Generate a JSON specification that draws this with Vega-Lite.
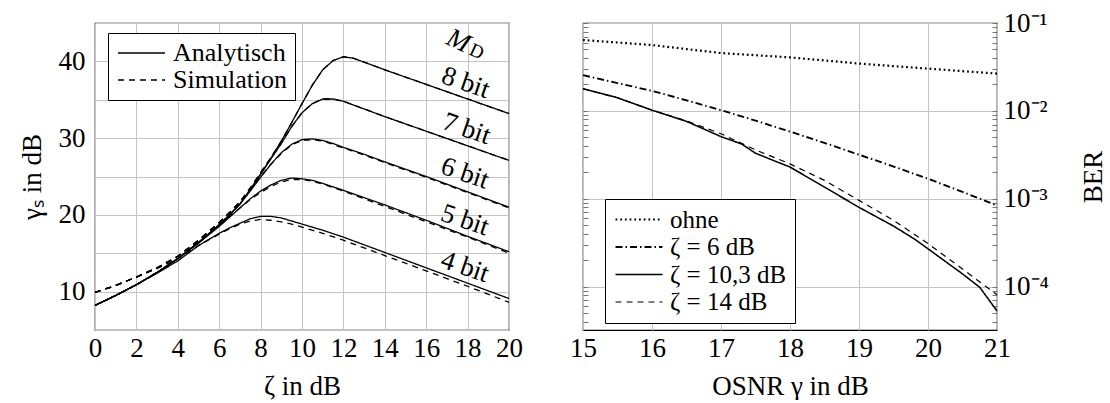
{
  "$schema": "https://vega.github.io/schema/vega-lite/v6.json",
  "padding": {"left": 17, "top": 8, "right": 0, "bottom": 0},
  "background": "white",
  "config": {
    "font": "Liberation Serif",
    "view": {"stroke": "black", "strokeWidth": 1.2},
    "text": {"font": "Liberation Serif"},
    "axis": {
      "labelFont": "Liberation Serif", "titleFont": "Liberation Serif",
      "labelFontSize": 27, "titleFontSize": 27, "titleFontWeight": "normal",
      "labelColor": "black", "titleColor": "black",
      "gridColor": "#c4c4c4", "gridWidth": 1, "gridOpacity": 1,
      "domain": false, "ticks": false, "labelOverlap": false, "labelFlush": false
    },
    "legend": {
      "labelFont": "Liberation Serif", "labelFontSize": 25, "labelColor": "black",
      "strokeColor": "black", "fillColor": "white", "padding": 8,
      "symbolType": "M-1,0H3.7", "symbolSize": 400, "symbolStrokeColor": "black", "symbolStrokeWidth": 1.3,
      "labelOffset": 32, "rowPadding": 1.5, "title": null
    }
  },
  "datasets": {
    "links": [
      {"x":0,"y":8.2,"b":"8 bit","t":"Analytisch"},{"x":1,"y":9.5,"b":"8 bit","t":"Analytisch"},{"x":2,"y":10.9,"b":"8 bit","t":"Analytisch"},{"x":3,"y":12.5,"b":"8 bit","t":"Analytisch"},{"x":4,"y":14.3,"b":"8 bit","t":"Analytisch"},{"x":5,"y":16.4,"b":"8 bit","t":"Analytisch"},{"x":6,"y":18.7,"b":"8 bit","t":"Analytisch"},{"x":6.5,"y":20.0,"b":"8 bit","t":"Analytisch"},{"x":7,"y":21.4,"b":"8 bit","t":"Analytisch"},{"x":7.5,"y":23.3,"b":"8 bit","t":"Analytisch"},{"x":8,"y":25.3,"b":"8 bit","t":"Analytisch"},{"x":8.5,"y":27.4,"b":"8 bit","t":"Analytisch"},{"x":9,"y":29.6,"b":"8 bit","t":"Analytisch"},{"x":9.5,"y":32.0,"b":"8 bit","t":"Analytisch"},{"x":10,"y":34.5,"b":"8 bit","t":"Analytisch"},{"x":10.5,"y":36.9,"b":"8 bit","t":"Analytisch"},{"x":11,"y":38.9,"b":"8 bit","t":"Analytisch"},{"x":11.5,"y":40.1,"b":"8 bit","t":"Analytisch"},{"x":12,"y":40.6,"b":"8 bit","t":"Analytisch"},{"x":12.5,"y":40.4,"b":"8 bit","t":"Analytisch"},{"x":13,"y":39.9,"b":"8 bit","t":"Analytisch"},{"x":14,"y":38.9,"b":"8 bit","t":"Analytisch"},{"x":16,"y":37.0,"b":"8 bit","t":"Analytisch"},{"x":18,"y":35.1,"b":"8 bit","t":"Analytisch"},{"x":20,"y":33.2,"b":"8 bit","t":"Analytisch"},

      {"x":0,"y":8.2,"b":"7 bit","t":"Analytisch"},{"x":1,"y":9.5,"b":"7 bit","t":"Analytisch"},{"x":2,"y":10.9,"b":"7 bit","t":"Analytisch"},{"x":3,"y":12.5,"b":"7 bit","t":"Analytisch"},{"x":4,"y":14.3,"b":"7 bit","t":"Analytisch"},{"x":5,"y":16.4,"b":"7 bit","t":"Analytisch"},{"x":6,"y":18.7,"b":"7 bit","t":"Analytisch"},{"x":6.5,"y":20.0,"b":"7 bit","t":"Analytisch"},{"x":7,"y":21.4,"b":"7 bit","t":"Analytisch"},{"x":7.5,"y":23.3,"b":"7 bit","t":"Analytisch"},{"x":8,"y":25.3,"b":"7 bit","t":"Analytisch"},{"x":8.5,"y":27.3,"b":"7 bit","t":"Analytisch"},{"x":9,"y":29.3,"b":"7 bit","t":"Analytisch"},{"x":9.5,"y":31.5,"b":"7 bit","t":"Analytisch"},{"x":10,"y":33.3,"b":"7 bit","t":"Analytisch"},{"x":10.5,"y":34.5,"b":"7 bit","t":"Analytisch"},{"x":11,"y":35.1,"b":"7 bit","t":"Analytisch"},{"x":11.5,"y":35.1,"b":"7 bit","t":"Analytisch"},{"x":12,"y":34.8,"b":"7 bit","t":"Analytisch"},{"x":12.5,"y":34.3,"b":"7 bit","t":"Analytisch"},{"x":13,"y":33.8,"b":"7 bit","t":"Analytisch"},{"x":14,"y":32.8,"b":"7 bit","t":"Analytisch"},{"x":16,"y":30.9,"b":"7 bit","t":"Analytisch"},{"x":18,"y":29.0,"b":"7 bit","t":"Analytisch"},{"x":20,"y":27.1,"b":"7 bit","t":"Analytisch"},

      {"x":0,"y":8.2,"b":"6 bit","t":"Analytisch"},{"x":1,"y":9.5,"b":"6 bit","t":"Analytisch"},{"x":2,"y":10.9,"b":"6 bit","t":"Analytisch"},{"x":3,"y":12.5,"b":"6 bit","t":"Analytisch"},{"x":4,"y":14.3,"b":"6 bit","t":"Analytisch"},{"x":5,"y":16.4,"b":"6 bit","t":"Analytisch"},{"x":6,"y":18.7,"b":"6 bit","t":"Analytisch"},{"x":6.5,"y":20.0,"b":"6 bit","t":"Analytisch"},{"x":7,"y":21.4,"b":"6 bit","t":"Analytisch"},{"x":7.5,"y":23.1,"b":"6 bit","t":"Analytisch"},{"x":8,"y":24.9,"b":"6 bit","t":"Analytisch"},{"x":8.5,"y":26.6,"b":"6 bit","t":"Analytisch"},{"x":9,"y":28.1,"b":"6 bit","t":"Analytisch"},{"x":9.5,"y":29.2,"b":"6 bit","t":"Analytisch"},{"x":10,"y":29.8,"b":"6 bit","t":"Analytisch"},{"x":10.5,"y":29.9,"b":"6 bit","t":"Analytisch"},{"x":11,"y":29.7,"b":"6 bit","t":"Analytisch"},{"x":11.5,"y":29.3,"b":"6 bit","t":"Analytisch"},{"x":12,"y":28.8,"b":"6 bit","t":"Analytisch"},{"x":13,"y":27.9,"b":"6 bit","t":"Analytisch"},{"x":14,"y":26.9,"b":"6 bit","t":"Analytisch"},{"x":16,"y":25.0,"b":"6 bit","t":"Analytisch"},{"x":18,"y":23.0,"b":"6 bit","t":"Analytisch"},{"x":20,"y":21.0,"b":"6 bit","t":"Analytisch"},

      {"x":0,"y":8.2,"b":"5 bit","t":"Analytisch"},{"x":1,"y":9.5,"b":"5 bit","t":"Analytisch"},{"x":2,"y":10.9,"b":"5 bit","t":"Analytisch"},{"x":3,"y":12.5,"b":"5 bit","t":"Analytisch"},{"x":4,"y":14.3,"b":"5 bit","t":"Analytisch"},{"x":5,"y":16.3,"b":"5 bit","t":"Analytisch"},{"x":6,"y":18.5,"b":"5 bit","t":"Analytisch"},{"x":6.5,"y":19.7,"b":"5 bit","t":"Analytisch"},{"x":7,"y":20.9,"b":"5 bit","t":"Analytisch"},{"x":7.5,"y":22.1,"b":"5 bit","t":"Analytisch"},{"x":8,"y":23.1,"b":"5 bit","t":"Analytisch"},{"x":8.5,"y":23.9,"b":"5 bit","t":"Analytisch"},{"x":9,"y":24.5,"b":"5 bit","t":"Analytisch"},{"x":9.5,"y":24.8,"b":"5 bit","t":"Analytisch"},{"x":10,"y":24.7,"b":"5 bit","t":"Analytisch"},{"x":10.5,"y":24.5,"b":"5 bit","t":"Analytisch"},{"x":11,"y":24.1,"b":"5 bit","t":"Analytisch"},{"x":12,"y":23.2,"b":"5 bit","t":"Analytisch"},{"x":14,"y":21.3,"b":"5 bit","t":"Analytisch"},{"x":16,"y":19.3,"b":"5 bit","t":"Analytisch"},{"x":18,"y":17.2,"b":"5 bit","t":"Analytisch"},{"x":20,"y":15.2,"b":"5 bit","t":"Analytisch"},

      {"x":0,"y":8.2,"b":"4 bit","t":"Analytisch"},{"x":1,"y":9.5,"b":"4 bit","t":"Analytisch"},{"x":2,"y":10.9,"b":"4 bit","t":"Analytisch"},{"x":3,"y":12.4,"b":"4 bit","t":"Analytisch"},{"x":4,"y":14.0,"b":"4 bit","t":"Analytisch"},{"x":5,"y":16.0,"b":"4 bit","t":"Analytisch"},{"x":6,"y":17.6,"b":"4 bit","t":"Analytisch"},{"x":6.5,"y":18.3,"b":"4 bit","t":"Analytisch"},{"x":7,"y":18.9,"b":"4 bit","t":"Analytisch"},{"x":7.5,"y":19.5,"b":"4 bit","t":"Analytisch"},{"x":8,"y":19.8,"b":"4 bit","t":"Analytisch"},{"x":8.5,"y":19.8,"b":"4 bit","t":"Analytisch"},{"x":9,"y":19.6,"b":"4 bit","t":"Analytisch"},{"x":9.5,"y":19.2,"b":"4 bit","t":"Analytisch"},{"x":10,"y":18.8,"b":"4 bit","t":"Analytisch"},{"x":11,"y":18.0,"b":"4 bit","t":"Analytisch"},{"x":12,"y":17.1,"b":"4 bit","t":"Analytisch"},{"x":14,"y":15.1,"b":"4 bit","t":"Analytisch"},{"x":16,"y":13.1,"b":"4 bit","t":"Analytisch"},{"x":18,"y":11.1,"b":"4 bit","t":"Analytisch"},{"x":20,"y":9.1,"b":"4 bit","t":"Analytisch"},

      {"x":0,"y":9.9,"b":"8 bit","t":"Simulation"},{"x":1,"y":10.8,"b":"8 bit","t":"Simulation"},{"x":2,"y":11.9,"b":"8 bit","t":"Simulation"},{"x":3,"y":13.1,"b":"8 bit","t":"Simulation"},{"x":4,"y":14.6,"b":"8 bit","t":"Simulation"},{"x":5,"y":16.7,"b":"8 bit","t":"Simulation"},{"x":6,"y":19.0,"b":"8 bit","t":"Simulation"},{"x":6.5,"y":20.3,"b":"8 bit","t":"Simulation"},{"x":7,"y":21.7,"b":"8 bit","t":"Simulation"},{"x":7.5,"y":23.5,"b":"8 bit","t":"Simulation"},{"x":8,"y":25.5,"b":"8 bit","t":"Simulation"},{"x":8.5,"y":27.5,"b":"8 bit","t":"Simulation"},{"x":9,"y":29.6,"b":"8 bit","t":"Simulation"},{"x":9.5,"y":32.0,"b":"8 bit","t":"Simulation"},{"x":10,"y":34.5,"b":"8 bit","t":"Simulation"},{"x":10.5,"y":36.9,"b":"8 bit","t":"Simulation"},{"x":11,"y":38.9,"b":"8 bit","t":"Simulation"},{"x":11.5,"y":40.1,"b":"8 bit","t":"Simulation"},{"x":12,"y":40.6,"b":"8 bit","t":"Simulation"},{"x":12.5,"y":40.4,"b":"8 bit","t":"Simulation"},{"x":13,"y":39.9,"b":"8 bit","t":"Simulation"},{"x":14,"y":38.9,"b":"8 bit","t":"Simulation"},{"x":16,"y":37.0,"b":"8 bit","t":"Simulation"},{"x":18,"y":35.1,"b":"8 bit","t":"Simulation"},{"x":20,"y":33.2,"b":"8 bit","t":"Simulation"},

      {"x":0,"y":9.9,"b":"7 bit","t":"Simulation"},{"x":1,"y":10.8,"b":"7 bit","t":"Simulation"},{"x":2,"y":11.9,"b":"7 bit","t":"Simulation"},{"x":3,"y":13.1,"b":"7 bit","t":"Simulation"},{"x":4,"y":14.6,"b":"7 bit","t":"Simulation"},{"x":5,"y":16.7,"b":"7 bit","t":"Simulation"},{"x":6,"y":19.0,"b":"7 bit","t":"Simulation"},{"x":6.5,"y":20.3,"b":"7 bit","t":"Simulation"},{"x":7,"y":21.7,"b":"7 bit","t":"Simulation"},{"x":7.5,"y":23.5,"b":"7 bit","t":"Simulation"},{"x":8,"y":25.5,"b":"7 bit","t":"Simulation"},{"x":8.5,"y":27.4,"b":"7 bit","t":"Simulation"},{"x":9,"y":29.3,"b":"7 bit","t":"Simulation"},{"x":9.5,"y":31.5,"b":"7 bit","t":"Simulation"},{"x":10,"y":33.3,"b":"7 bit","t":"Simulation"},{"x":10.5,"y":34.5,"b":"7 bit","t":"Simulation"},{"x":11,"y":35.1,"b":"7 bit","t":"Simulation"},{"x":11.5,"y":35.1,"b":"7 bit","t":"Simulation"},{"x":12,"y":34.8,"b":"7 bit","t":"Simulation"},{"x":12.5,"y":34.3,"b":"7 bit","t":"Simulation"},{"x":13,"y":33.8,"b":"7 bit","t":"Simulation"},{"x":14,"y":32.8,"b":"7 bit","t":"Simulation"},{"x":16,"y":30.9,"b":"7 bit","t":"Simulation"},{"x":18,"y":29.0,"b":"7 bit","t":"Simulation"},{"x":20,"y":27.1,"b":"7 bit","t":"Simulation"},

      {"x":0,"y":9.9,"b":"6 bit","t":"Simulation"},{"x":1,"y":10.8,"b":"6 bit","t":"Simulation"},{"x":2,"y":11.9,"b":"6 bit","t":"Simulation"},{"x":3,"y":13.1,"b":"6 bit","t":"Simulation"},{"x":4,"y":14.6,"b":"6 bit","t":"Simulation"},{"x":5,"y":16.7,"b":"6 bit","t":"Simulation"},{"x":6,"y":19.0,"b":"6 bit","t":"Simulation"},{"x":6.5,"y":20.3,"b":"6 bit","t":"Simulation"},{"x":7,"y":21.6,"b":"6 bit","t":"Simulation"},{"x":7.5,"y":23.3,"b":"6 bit","t":"Simulation"},{"x":8,"y":25.0,"b":"6 bit","t":"Simulation"},{"x":8.5,"y":26.6,"b":"6 bit","t":"Simulation"},{"x":9,"y":28.0,"b":"6 bit","t":"Simulation"},{"x":9.5,"y":29.1,"b":"6 bit","t":"Simulation"},{"x":10,"y":29.7,"b":"6 bit","t":"Simulation"},{"x":10.5,"y":29.8,"b":"6 bit","t":"Simulation"},{"x":11,"y":29.6,"b":"6 bit","t":"Simulation"},{"x":11.5,"y":29.2,"b":"6 bit","t":"Simulation"},{"x":12,"y":28.7,"b":"6 bit","t":"Simulation"},{"x":13,"y":27.8,"b":"6 bit","t":"Simulation"},{"x":14,"y":26.8,"b":"6 bit","t":"Simulation"},{"x":16,"y":24.9,"b":"6 bit","t":"Simulation"},{"x":18,"y":22.9,"b":"6 bit","t":"Simulation"},{"x":20,"y":20.9,"b":"6 bit","t":"Simulation"},

      {"x":0,"y":9.9,"b":"5 bit","t":"Simulation"},{"x":1,"y":10.8,"b":"5 bit","t":"Simulation"},{"x":2,"y":11.9,"b":"5 bit","t":"Simulation"},{"x":3,"y":13.1,"b":"5 bit","t":"Simulation"},{"x":4,"y":14.6,"b":"5 bit","t":"Simulation"},{"x":5,"y":16.6,"b":"5 bit","t":"Simulation"},{"x":6,"y":18.7,"b":"5 bit","t":"Simulation"},{"x":6.5,"y":19.8,"b":"5 bit","t":"Simulation"},{"x":7,"y":20.9,"b":"5 bit","t":"Simulation"},{"x":7.5,"y":22.0,"b":"5 bit","t":"Simulation"},{"x":8,"y":22.9,"b":"5 bit","t":"Simulation"},{"x":8.5,"y":23.7,"b":"5 bit","t":"Simulation"},{"x":9,"y":24.3,"b":"5 bit","t":"Simulation"},{"x":9.5,"y":24.6,"b":"5 bit","t":"Simulation"},{"x":10,"y":24.6,"b":"5 bit","t":"Simulation"},{"x":10.5,"y":24.4,"b":"5 bit","t":"Simulation"},{"x":11,"y":24.0,"b":"5 bit","t":"Simulation"},{"x":12,"y":23.1,"b":"5 bit","t":"Simulation"},{"x":14,"y":21.1,"b":"5 bit","t":"Simulation"},{"x":16,"y":19.1,"b":"5 bit","t":"Simulation"},{"x":18,"y":17.1,"b":"5 bit","t":"Simulation"},{"x":20,"y":15.0,"b":"5 bit","t":"Simulation"},

      {"x":0,"y":9.9,"b":"4 bit","t":"Simulation"},{"x":1,"y":10.8,"b":"4 bit","t":"Simulation"},{"x":2,"y":11.9,"b":"4 bit","t":"Simulation"},{"x":3,"y":13.0,"b":"4 bit","t":"Simulation"},{"x":4,"y":14.3,"b":"4 bit","t":"Simulation"},{"x":5,"y":16.0,"b":"4 bit","t":"Simulation"},{"x":6,"y":17.5,"b":"4 bit","t":"Simulation"},{"x":6.5,"y":18.2,"b":"4 bit","t":"Simulation"},{"x":7,"y":18.8,"b":"4 bit","t":"Simulation"},{"x":7.5,"y":19.2,"b":"4 bit","t":"Simulation"},{"x":8,"y":19.4,"b":"4 bit","t":"Simulation"},{"x":8.5,"y":19.3,"b":"4 bit","t":"Simulation"},{"x":9,"y":19.1,"b":"4 bit","t":"Simulation"},{"x":9.5,"y":18.8,"b":"4 bit","t":"Simulation"},{"x":10,"y":18.4,"b":"4 bit","t":"Simulation"},{"x":11,"y":17.6,"b":"4 bit","t":"Simulation"},{"x":12,"y":16.7,"b":"4 bit","t":"Simulation"},{"x":14,"y":14.7,"b":"4 bit","t":"Simulation"},{"x":16,"y":12.7,"b":"4 bit","t":"Simulation"},{"x":18,"y":10.7,"b":"4 bit","t":"Simulation"},{"x":20,"y":8.6,"b":"4 bit","t":"Simulation"}
    ],
    "labels": [
      {"x":17.9,"y":37.2,"txt":"8 bit"},
      {"x":17.95,"y":31.2,"txt":"7 bit"},
      {"x":17.87,"y":25.4,"txt":"6 bit"},
      {"x":17.87,"y":19.3,"txt":"5 bit"},
      {"x":17.87,"y":13.2,"txt":"4 bit"}
    ],
    "mlabel": [{"x":17.55,"y":42.65,"txt":"M"}],
    "dlabel": [{"x":18.44,"y":41.3,"txt":"D"}],
    "rechts": [
      {"x":15,"ber":0.064,"z":"ohne"},{"x":15.5,"ber":0.060,"z":"ohne"},{"x":16,"ber":0.0561,"z":"ohne"},{"x":16.5,"ber":0.0505,"z":"ohne"},{"x":17,"ber":0.0455,"z":"ohne"},{"x":17.5,"ber":0.043,"z":"ohne"},{"x":18,"ber":0.0406,"z":"ohne"},{"x":18.5,"ber":0.0375,"z":"ohne"},{"x":19,"ber":0.0346,"z":"ohne"},{"x":19.5,"ber":0.0323,"z":"ohne"},{"x":20,"ber":0.0303,"z":"ohne"},{"x":20.5,"ber":0.0283,"z":"ohne"},{"x":21,"ber":0.0266,"z":"ohne"},
      {"x":15,"ber":0.0255,"z":"ζ = 6 dB"},{"x":15.5,"ber":0.0207,"z":"ζ = 6 dB"},{"x":16,"ber":0.0169,"z":"ζ = 6 dB"},{"x":16.5,"ber":0.0132,"z":"ζ = 6 dB"},{"x":17,"ber":0.0102,"z":"ζ = 6 dB"},{"x":17.5,"ber":0.00776,"z":"ζ = 6 dB"},{"x":18,"ber":0.00582,"z":"ζ = 6 dB"},{"x":18.5,"ber":0.00432,"z":"ζ = 6 dB"},{"x":19,"ber":0.00318,"z":"ζ = 6 dB"},{"x":19.5,"ber":0.00233,"z":"ζ = 6 dB"},{"x":20,"ber":0.00169,"z":"ζ = 6 dB"},{"x":20.5,"ber":0.0012,"z":"ζ = 6 dB"},{"x":21,"ber":0.00084,"z":"ζ = 6 dB"},
      {"x":15,"ber":0.0179,"z":"ζ = 10,3 dB"},{"x":15.5,"ber":0.0141,"z":"ζ = 10,3 dB"},{"x":16,"ber":0.0102,"z":"ζ = 10,3 dB"},{"x":16.5,"ber":0.0076,"z":"ζ = 10,3 dB"},{"x":17,"ber":0.0051,"z":"ζ = 10,3 dB"},{"x":17.3,"ber":0.0042,"z":"ζ = 10,3 dB"},{"x":17.5,"ber":0.0033,"z":"ζ = 10,3 dB"},{"x":17.7,"ber":0.00285,"z":"ζ = 10,3 dB"},{"x":18,"ber":0.0023,"z":"ζ = 10,3 dB"},{"x":18.5,"ber":0.00136,"z":"ζ = 10,3 dB"},{"x":19,"ber":0.0008,"z":"ζ = 10,3 dB"},{"x":19.5,"ber":0.00049,"z":"ζ = 10,3 dB"},{"x":19.8,"ber":0.00035,"z":"ζ = 10,3 dB"},{"x":20,"ber":0.00027,"z":"ζ = 10,3 dB"},{"x":20.5,"ber":0.00014,"z":"ζ = 10,3 dB"},{"x":20.75,"ber":0.0000985,"z":"ζ = 10,3 dB"},{"x":21,"ber":0.000053,"z":"ζ = 10,3 dB"},
      {"x":15,"ber":0.0179,"z":"ζ = 14 dB"},{"x":15.5,"ber":0.0141,"z":"ζ = 14 dB"},{"x":16,"ber":0.0102,"z":"ζ = 14 dB"},{"x":16.5,"ber":0.0077,"z":"ζ = 14 dB"},{"x":17,"ber":0.0055,"z":"ζ = 14 dB"},{"x":17.5,"ber":0.0036,"z":"ζ = 14 dB"},{"x":18,"ber":0.0025,"z":"ζ = 14 dB"},{"x":18.5,"ber":0.00162,"z":"ζ = 14 dB"},{"x":19,"ber":0.00096,"z":"ζ = 14 dB"},{"x":19.5,"ber":0.00057,"z":"ζ = 14 dB"},{"x":20,"ber":0.00031,"z":"ζ = 14 dB"},{"x":20.5,"ber":0.000159,"z":"ζ = 14 dB"},{"x":21,"ber":0.000081,"z":"ζ = 14 dB"}
    ]
  },
  "spacing": 74,
  "bounds": "flush",
  "resolve": {
    "scale": {"strokeDash": "independent", "strokeWidth": "independent"},
    "legend": {"strokeDash": "independent", "strokeWidth": "independent"}
  },
  "hconcat": [
    {
      "width": 414, "height": 307,
      "resolve": {"axis": {"y": "independent"}},
      "layer": [
        {
          "data": {"name": "links"},
          "mark": {"type": "line", "color": "black", "strokeWidth": 1.3},
          "encoding": {
            "x": {"field": "x", "type": "quantitative",
                  "scale": {"domain": [0, 20], "nice": false, "zero": false},
                  "axis": {"values": [0,2,4,6,8,10,12,14,16,18,20], "title": "ζ in dB", "labelPadding": 5, "titlePadding": 12}},
            "y": {"field": "y", "type": "quantitative",
                  "scale": {"domain": [5, 45], "nice": false, "zero": false},
                  "axis": {"values": [10,20,30,40], "title": "γₛ in dB", "labelPadding": 10, "titlePadding": 12}},
            "strokeDash": {"field": "t", "type": "nominal",
                  "scale": {"domain": ["Analytisch", "Simulation"], "range": [[1, 0], [6, 5]]},
                  "legend": {"orient": "none", "legendX": 13, "legendY": 10, "labelFontSize": 26, "rowPadding": 1, "padding": 7}},
            "detail": {"field": "b", "type": "nominal"}
          }
        },
        {
          "data": {"name": "links"},
          "mark": {"type": "point", "opacity": 0},
          "encoding": {
            "x": {"field": "x", "type": "quantitative"},
            "y": {"field": "y", "type": "quantitative",
                  "axis": {"orient": "right", "values": [5,15,25,35,45], "labels": false, "ticks": false, "title": null, "grid": true}}
          }
        },
        {
          "data": {"name": "labels"},
          "mark": {"type": "text", "angle": 19, "fontSize": 27, "color": "black"},
          "encoding": {
            "x": {"field": "x", "type": "quantitative"},
            "y": {"field": "y", "type": "quantitative", "axis": null},
            "text": {"field": "txt"}
          }
        },
        {
          "data": {"name": "mlabel"},
          "mark": {"type": "text", "angle": 25, "fontSize": 27, "fontStyle": "italic", "color": "black"},
          "encoding": {
            "x": {"field": "x", "type": "quantitative"},
            "y": {"field": "y", "type": "quantitative", "axis": null},
            "text": {"field": "txt"}
          }
        },
        {
          "data": {"name": "dlabel"},
          "mark": {"type": "text", "angle": 25, "fontSize": 19, "color": "black"},
          "encoding": {
            "x": {"field": "x", "type": "quantitative"},
            "y": {"field": "y", "type": "quantitative", "axis": null},
            "text": {"field": "txt"}
          }
        }
      ]
    },
    {
      "width": 414, "height": 307,
      "data": {"name": "rechts"},
      "resolve": {"axis": {"y": "independent"}},
      "layer": [
        {
          "mark": {"type": "line", "color": "black"},
          "encoding": {
            "x": {"field": "x", "type": "quantitative",
                  "scale": {"domain": [15, 21], "nice": false, "zero": false},
                  "axis": {"values": [15,15.5,16,16.5,17,17.5,18,18.5,19,19.5,20,20.5,21], "labelExpr": "datum.value % 1 == 0 ? format(datum.value, 'd') : ''", "title": "OSNR γ in dB", "labelPadding": 5, "titlePadding": 12}},
            "y": {"field": "ber", "type": "quantitative",
                  "scale": {"type": "log", "domain": [0.0000322, 0.1], "nice": false},
                  "axis": {"orient": "right", "title": "BER", "titleAngle": 270, "titleBaseline": "top", "labelPadding": 11, "titlePadding": 32,
                           "values": [0.00004,0.00005,0.00006,0.00007,0.00008,0.00009,0.0001,0.0002,0.0003,0.0004,0.0005,0.0006,0.0007,0.0008,0.0009,0.001,0.002,0.003,0.004,0.005,0.006,0.007,0.008,0.009,0.01,0.02,0.03,0.04,0.05,0.06,0.07,0.08,0.09,0.1],
                           "labelExpr": "datum.value == 0.1 ? '10⁻¹' : datum.value == 0.01 ? '10⁻²' : datum.value == 0.001 ? '10⁻³' : datum.value == 0.0001 ? '10⁻⁴' : ''",
                           "gridOpacity": {"condition": {"test": "datum.value == 0.1 || datum.value == 0.01 || datum.value == 0.001 || datum.value == 0.0001", "value": 1}, "value": 0},
                           "ticks": true, "tickSize": -5, "tickColor": "#777777", "tickWidth": 1}},
            "strokeDash": {"field": "z", "type": "nominal",
                  "scale": {"domain": ["ohne", "ζ = 6 dB", "ζ = 10,3 dB", "ζ = 14 dB"], "range": [[1.8, 2.9], [7, 3, 1.5, 3], [1, 0], [6, 5]]},
                  "legend": {"orient": "none", "legendX": 22, "legendY": 176}},
            "strokeWidth": {"field": "z", "type": "nominal",
                  "scale": {"domain": ["ohne", "ζ = 6 dB", "ζ = 10,3 dB", "ζ = 14 dB"], "range": [2.2, 1.2, 1.3, 1.3]},
                  "legend": {"orient": "none", "legendX": 22, "legendY": 176}}
          }
        },
        {
          "mark": {"type": "point", "opacity": 0},
          "encoding": {
            "x": {"field": "x", "type": "quantitative"},
            "y": {"field": "ber", "type": "quantitative",
                  "axis": {"orient": "left", "title": null, "labels": false, "grid": false,
                           "values": [0.00004,0.00005,0.00006,0.00007,0.00008,0.00009,0.0001,0.0002,0.0003,0.0004,0.0005,0.0006,0.0007,0.0008,0.0009,0.001,0.002,0.003,0.004,0.005,0.006,0.007,0.008,0.009,0.01,0.02,0.03,0.04,0.05,0.06,0.07,0.08,0.09,0.1],
                           "ticks": true, "tickSize": -5, "tickColor": "#777777", "tickWidth": 1}}
          }
        }
      ]
    }
  ]
}
